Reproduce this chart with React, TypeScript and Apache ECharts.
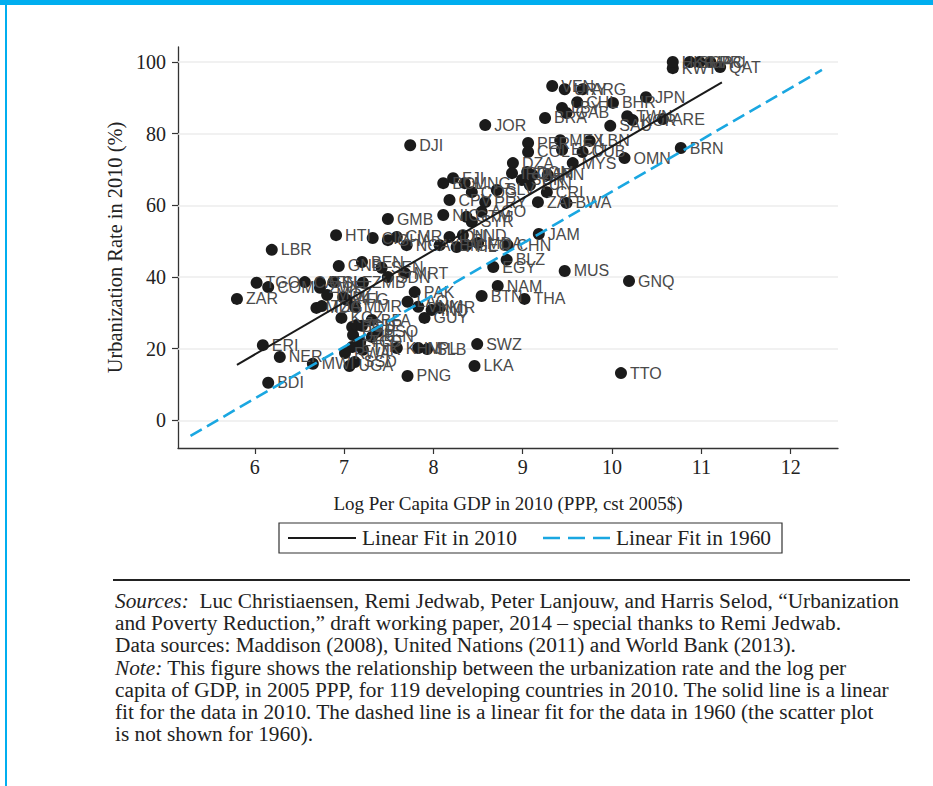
import React, { useEffect, useRef } from "react";
import * as echarts from "echarts";

const countries = [
  "QAT","KWT","HKG","SGP","MAC","PRI","JPN","BHR","ARG","VEN",
  "URY","CHL","LBY","GAB","BRA","TWN","KOR","SAU","ARE","BRN",
  "OMN","JOR","DJI","PER","MEX","LBN","COL","ECU","CUB","MYS",
  "DZA","IRQ","DOM","IRN","SUR","TUN","CRI","ZAF","BWA","PAN",
  "BOL","FJI","MNG","COG","SLV","CPV","PRY","AGO","NIC","GTM",
  "SYR","GMB","HTI","CIV","GHA","CMR","NGA","IDN","PHL","HND",
  "GEO","MDA","YEM","CHN","JAM","BLZ","EGY","MUS","GNQ","NAM",
  "BTN","THA","SWZ","LKA","TTO","PNG","LBR","GNB","BEN","SEN",
  "SDN","MRT","ZMB","TGO","COM","ZAR","CAF","GIN","SLE","ZWE",
  "MOZ","MLI","AFG","MDG","TZA","MMR","KGZ","BGD","TLS","STP",
  "UZB","TCD","KEN","LSO","BFA","ETH","TJK","RWA","SSD","UGA",
  "MWI","NER","ERI","BDI","KHM","NPL","SLB","PAK","LAO","VNM",
  "IND","KIR","GUY"
];

const logGdp = [
  11.21,10.68,10.68,10.87,10.98,11.10,10.38,10.01,9.67,9.33,
  9.47,9.61,9.44,9.49,9.25,10.17,10.23,9.98,10.57,10.77,
  10.14,8.58,7.74,9.06,9.42,9.75,9.06,9.44,9.67,9.56,
  8.89,8.88,9.05,9.28,8.99,9.08,9.27,9.17,9.49,9.11,
  8.11,8.22,8.35,8.43,8.71,8.18,8.58,8.54,8.11,8.37,
  8.43,7.49,6.91,7.32,7.49,7.59,7.70,8.18,8.26,8.33,
  8.37,8.50,8.07,8.83,9.18,8.82,8.67,9.47,10.19,8.72,
  8.54,9.02,8.49,8.46,10.10,7.71,6.19,6.94,7.20,7.42,
  7.49,7.68,7.21,6.02,6.15,5.80,6.56,6.73,6.88,6.73,
  6.81,6.99,7.03,6.69,6.75,7.12,6.97,7.09,7.14,7.20,
  7.10,7.18,7.31,7.37,7.31,7.09,7.21,7.01,7.12,7.06,
  6.65,6.28,6.09,6.15,7.59,7.83,7.93,7.79,7.71,7.83,
  7.98,8.07,7.90
];

const urbanRate = [
  98.6,98.3,100.0,100.0,100.0,100.0,90.2,88.6,92.4,93.3,
  92.4,88.8,87.2,85.8,84.4,84.9,83.8,82.2,84.1,76.0,
  73.2,82.4,76.8,77.4,78.2,78.0,74.9,75.5,74.9,71.8,
  71.8,69.0,69.3,68.5,67.1,65.7,63.7,60.9,60.7,68.5,
  66.2,67.6,66.2,63.7,64.3,61.5,60.9,58.2,57.3,56.8,
  55.4,56.2,51.7,50.9,50.3,51.2,48.9,51.2,48.4,51.7,
  48.9,49.5,48.9,48.9,52.0,44.8,42.8,41.7,38.9,37.5,
  34.7,33.9,21.3,15.2,13.2,12.4,47.6,43.1,44.2,42.6,
  40.0,41.1,38.4,38.4,37.2,33.9,38.6,38.4,38.6,37.0,
  35.0,34.4,33.6,31.4,31.9,31.7,28.6,26.1,26.6,26.4,
  23.8,21.9,23.3,24.7,28.0,20.5,19.7,18.8,16.3,15.2,
  15.8,17.7,21.0,10.5,20.2,20.2,19.9,35.8,33.1,31.7,
  30.8,31.4,28.6
];

const xTicks = [6, 7, 8, 9, 10, 11, 12];
const yTicks = [0, 20, 40, 60, 80, 100];

const fit2010X = [5.80, 11.23];
const fit2010Y = [15.5, 94.3];
const fit1960X = [5.28, 12.35];
const fit1960Y = [-4.3, 97.8];

const legendLabels = ["Linear Fit in 2010", "Linear Fit in 1960"];

const SERIF = "'Liberation Serif', 'Times New Roman', serif";
const SANS = "'Liberation Sans', Arial, sans-serif";
const BLUE = "#1aa7e1";

const noteLines: { italic?: string; text: string }[] = [
  { italic: "Sources:", text: "\u00a0 Luc Christiaensen, Remi Jedwab, Peter Lanjouw, and Harris Selod, \u201cUrbanization" },
  { text: "and Poverty Reduction,\u201d draft working paper, 2014 \u2013 special thanks to Remi Jedwab." },
  { text: "Data sources: Maddison (2008), United Nations (2011) and World Bank (2013)." },
  { italic: "Note:", text: " This figure shows the relationship between the urbanization rate and the log per" },
  { text: "capita of GDP, in 2005 PPP, for 119 developing countries in 2010. The solid line is a linear" },
  { text: "fit for the data in 2010. The dashed line is a linear fit for the data in 1960 (the scatter plot" },
  { text: "is not shown for 1960)." },
];

function Chart() {
  const ref = useRef<HTMLDivElement>(null);
  useEffect(() => {
    if (!ref.current) return;
    const chart = echarts.init(ref.current, undefined, { renderer: "svg" });
    const points = countries.map((c, i) => ({ name: c, value: [logGdp[i], urbanRate[i]] }));
    chart.setOption({
      animation: false,
      grid: { left: 178, top: 47, width: 660, height: 401, containLabel: false, outerBoundsMode: "none" },
      xAxis: {
        type: "value",
        min: 5.14,
        max: 12.53,
        name: "Log Per Capita GDP in 2010 (PPP, cst 2005$)",
        nameLocation: "middle",
        nameGap: 46,
        nameTextStyle: { fontFamily: SERIF, fontSize: 19, color: "#222" },
        axisLine: { show: true, onZero: false, lineStyle: { color: "#333", width: 1.3 } },
        axisTick: { show: true, inside: false, length: 6, customValues: xTicks, lineStyle: { color: "#333", width: 1.2 } },
        axisLabel: { customValues: xTicks, fontFamily: SERIF, fontSize: 20, color: "#222", margin: 9 },
        splitLine: { show: false },
      },
      yAxis: {
        type: "value",
        min: -7.7,
        max: 104.2,
        name: "Urbanization Rate in 2010 (%)",
        nameLocation: "middle",
        nameGap: 52,
        nameTextStyle: { fontFamily: SERIF, fontSize: 20.4, color: "#222" },
        axisLine: { show: true, onZero: false, lineStyle: { color: "#333", width: 1.3 } },
        axisTick: { show: true, inside: false, length: 6, customValues: yTicks, lineStyle: { color: "#333", width: 1.2 } },
        axisLabel: { customValues: yTicks, fontFamily: SERIF, fontSize: 20, color: "#222", margin: 12 },
        splitLine: { show: false },
      },
      graphic: [
        {
          type: "rect",
          shape: { x: 279, y: 523, width: 503, height: 30 },
          style: { fill: "#fff", stroke: "#333", lineWidth: 1.2 },
        },
        {
          type: "line",
          shape: { x1: 288, y1: 538, x2: 356, y2: 538 },
          style: { stroke: "#1a1a1a", lineWidth: 2 },
        },
        {
          type: "text",
          x: 362,
          y: 538,
          style: { text: legendLabels[0], fontFamily: SERIF, fontSize: 21.4, fill: "#222", verticalAlign: "middle", align: "left" },
        },
        {
          type: "line",
          shape: { x1: 543, y1: 538, x2: 611, y2: 538 },
          style: { stroke: BLUE, lineWidth: 2.6, lineDash: [17, 8] },
        },
        {
          type: "text",
          x: 616,
          y: 538,
          style: { text: legendLabels[1], fontFamily: SERIF, fontSize: 21.4, fill: "#222", verticalAlign: "middle", align: "left" },
        },
      ],
      series: [
        {
          type: "line",
          name: "grid",
          data: [],
          z: 1,
          silent: true,
          markLine: {
            silent: true,
            symbol: "none",
            z: 1,
            label: { show: false },
            lineStyle: { color: "#ececec", width: 1.5, type: "solid" },
            data: yTicks.map((v) => ({ yAxis: v })),
          },
        },
        {
          type: "scatter",
          name: "2010",
          data: points,
          symbolSize: 12,
          z: 3,
          itemStyle: { color: "#1b1b1b", opacity: 1 },
          label: {
            show: true,
            position: "right",
            distance: 3,
            formatter: "{b}",
            fontFamily: SANS,
            fontSize: 16,
            color: "#4a4a4a",
          },
        },
        {
          type: "line",
          name: legendLabels[0],
          data: fit2010X.map((x, i) => [x, fit2010Y[i]]),
          symbol: "none",
          z: 4,
          lineStyle: { color: "#1a1a1a", width: 2 },
        },
        {
          type: "line",
          name: legendLabels[1],
          data: fit1960X.map((x, i) => [x, fit1960Y[i]]),
          symbol: "none",
          z: 4,
          lineStyle: { color: BLUE, width: 2.6, type: [13, 6] },
        },
      ],
    });
    return () => chart.dispose();
  }, []);
  return <div ref={ref} style={{ position: "absolute", left: 0, top: 0, width: 933, height: 570 }} />;
}

export default function App() {
  return (
    <div style={{ position: "absolute", left: 0, top: 0, width: 933, height: 786, background: "#fff", overflow: "hidden" }}>
      <Chart />
      <div style={{ position: "absolute", left: 0, top: 0, width: 933, height: 5, background: "#00aeef" }} />
      <div style={{ position: "absolute", left: 5, top: 0, width: 2, height: 786, background: "#00aeef" }} />
      <div style={{ position: "absolute", left: 113, top: 579, width: 797, height: 1.5, background: "#222" }} />
      <div style={{ position: "absolute", left: 115, top: 590, fontFamily: SERIF, fontSize: 21.3, lineHeight: "22.2px", color: "#222" }}>
        {noteLines.map((l, i) => (
          <div key={i} style={{ whiteSpace: "pre" }}>
            {l.italic ? <i>{l.italic}</i> : null}
            {l.text}
          </div>
        ))}
      </div>
    </div>
  );
}
